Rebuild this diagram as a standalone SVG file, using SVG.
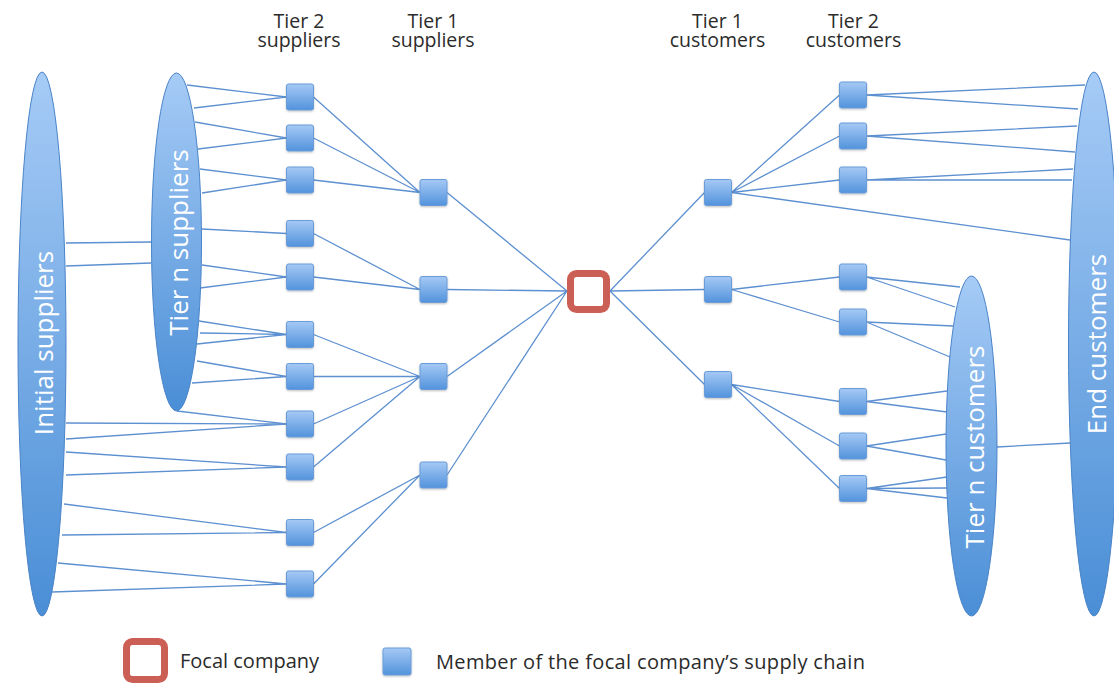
<svg xmlns="http://www.w3.org/2000/svg" width="1114" height="684" viewBox="0 0 1114 684">
<defs>
<linearGradient id="gEll" x1="0" y1="0" x2="0" y2="1">
<stop offset="0" stop-color="#a6cbf6"/>
<stop offset="1" stop-color="#4a8ed6"/>
</linearGradient>
<linearGradient id="gSq" x1="0" y1="0" x2="0" y2="1">
<stop offset="0" stop-color="#a5c9f5"/>
<stop offset="1" stop-color="#5393dc"/>
</linearGradient>
<filter id="sh" x="-20%" y="-20%" width="140%" height="150%">
<feDropShadow dx="0" dy="1" stdDeviation="0.8" flood-color="#000" flood-opacity="0.25"/>
</filter>
</defs>
<style>
.ln{stroke:#5d90d0;stroke-width:1.3;fill:none}
.ell{fill:url(#gEll);stroke:#4a84c8;stroke-width:1}
.sq{fill:url(#gSq);stroke:#6a9cd8;stroke-width:1;filter:url(#sh)}
.focal{fill:#fff;stroke:#cc5f55;stroke-width:7}
.hdr{font-family:"Open Sans","Noto Sans",sans-serif;font-size:19.5px;fill:#2b2b2b;text-anchor:middle}
.lg{font-family:"Open Sans","Noto Sans",sans-serif;font-size:20px;fill:#2b2b2b}
.et{font-family:"Open Sans","Noto Sans",sans-serif;font-size:26px;fill:#fff;text-anchor:middle}
</style>
<rect width="1114" height="684" fill="#fff"/>
<g id="connectors" class="ln">
<path d="M66 243L151 242M66 266L151 263"/>
<path d="M187 85L286.5 97M194 108L286.5 97M195 122L286.5 138M198 149L286.5 138M200 169L286.5 180M202 193L286.5 180M202 229L286.5 233.5M202 265L286.5 277M200 288L286.5 277M199 321L286.5 334.5M200 333L286.5 334.5M197 344L286.5 334.5M197 361L286.5 376.5M192 383L286.5 376.5M177 411L286.5 424"/>
<path d="M66 423L286.5 424M66 439L286.5 424M66 452L286.5 467M66 475L286.5 467M64 504L286.5 532.5M62 535L286.5 532.5M58 563L286.5 584M52 592L286.5 584"/>
<path d="M313.5 97L420 192.5M313.5 138L420 192.5M313.5 180L420 192.5M313.5 233.5L420 289.5M313.5 277L420 289.5M313.5 334.5L420 376.5M313.5 376.5L420 376.5M313.5 424L420 376.5M313.5 467L420 376.5M313.5 532.5L420 475M313.5 584L420 475"/>
<path d="M447 192.5L567 291M447 289.5L567 291M447 376.5L567 291M447 475L567 291"/>
<path d="M610 291L704.5 192.5M610 291L704.5 289.5M610 291L704.5 384.5"/>
<path d="M731.5 192.5L839.5 95M731.5 192.5L839.5 136M731.5 192.5L839.5 180M731.5 192.5L1070 240M731.5 289.5L839.5 277M731.5 289.5L839.5 322M731.5 384.5L839.5 401.5M731.5 384.5L839.5 446M731.5 384.5L839.5 488.5"/>
<path d="M866.5 95L1085 85M866.5 95L1078 109M866.5 136L1077 126M866.5 136L1075 152M866.5 180L1073 169M866.5 180L1072 180"/>
<path d="M866.5 277L960 287M866.5 277L955 307M866.5 322L953 326M866.5 322L950 357M866.5 401.5L947 391M866.5 401.5L947 412M866.5 446L946 434M866.5 446L946 460M866.5 488.5L947 477M866.5 488.5L947 488M866.5 488.5L947 498"/>
<path d="M997 447L1070 443"/>
</g>
<g id="initial-suppliers">
<ellipse class="ell" cx="42" cy="344" rx="24" ry="272"/>
<text class="et" transform="translate(53 343) rotate(-90)">Initial suppliers</text>
</g>
<g id="tier-n-suppliers">
<ellipse class="ell" cx="176.5" cy="242" rx="25" ry="169"/>
<text class="et" transform="translate(188 242.5) rotate(-90)">Tier n suppliers</text>
</g>
<g id="tier-n-customers">
<ellipse class="ell" cx="971.5" cy="446" rx="25.5" ry="170"/>
<text class="et" transform="translate(984 447) rotate(-90)">Tier n customers</text>
</g>
<g id="end-customers">
<ellipse class="ell" cx="1094" cy="344" rx="25.5" ry="272"/>
<text class="et" transform="translate(1106 344) rotate(-90)">End customers</text>
</g>
<g id="tier2-suppliers">
<rect class="sq" x="286.5" y="84" width="27" height="26" rx="2"/>
<rect class="sq" x="286.5" y="125" width="27" height="26" rx="2"/>
<rect class="sq" x="286.5" y="167" width="27" height="26" rx="2"/>
<rect class="sq" x="286.5" y="220.5" width="27" height="26" rx="2"/>
<rect class="sq" x="286.5" y="264" width="27" height="26" rx="2"/>
<rect class="sq" x="286.5" y="321.5" width="27" height="26" rx="2"/>
<rect class="sq" x="286.5" y="363.5" width="27" height="26" rx="2"/>
<rect class="sq" x="286.5" y="411" width="27" height="26" rx="2"/>
<rect class="sq" x="286.5" y="454" width="27" height="26" rx="2"/>
<rect class="sq" x="286.5" y="519.5" width="27" height="26" rx="2"/>
<rect class="sq" x="286.5" y="571" width="27" height="26" rx="2"/>
</g>
<g id="tier1-suppliers">
<rect class="sq" x="420" y="179.5" width="27" height="26" rx="2"/>
<rect class="sq" x="420" y="276.5" width="27" height="26" rx="2"/>
<rect class="sq" x="420" y="363.5" width="27" height="26" rx="2"/>
<rect class="sq" x="420" y="462" width="27" height="26" rx="2"/>
</g>
<g id="focal-company">
<rect class="focal" x="570.5" y="273.5" width="36" height="36" rx="6"/>
</g>
<g id="tier1-customers">
<rect class="sq" x="704.5" y="179.5" width="27" height="26" rx="2"/>
<rect class="sq" x="704.5" y="276.5" width="27" height="26" rx="2"/>
<rect class="sq" x="704.5" y="371.5" width="27" height="26" rx="2"/>
</g>
<g id="tier2-customers">
<rect class="sq" x="839.5" y="82" width="27" height="26" rx="2"/>
<rect class="sq" x="839.5" y="123" width="27" height="26" rx="2"/>
<rect class="sq" x="839.5" y="167" width="27" height="26" rx="2"/>
<rect class="sq" x="839.5" y="264" width="27" height="26" rx="2"/>
<rect class="sq" x="839.5" y="309" width="27" height="26" rx="2"/>
<rect class="sq" x="839.5" y="388.5" width="27" height="26" rx="2"/>
<rect class="sq" x="839.5" y="433" width="27" height="26" rx="2"/>
<rect class="sq" x="839.5" y="475.5" width="27" height="26" rx="2"/>
</g>
<g id="headers">
<text class="hdr" x="299" y="28"><tspan x="299">Tier 2</tspan><tspan x="299" dy="19">suppliers</tspan></text>
<text class="hdr" x="433" y="28"><tspan x="433">Tier 1</tspan><tspan x="433" dy="19">suppliers</tspan></text>
<text class="hdr" x="717.5" y="28"><tspan x="717.5">Tier 1</tspan><tspan x="717.5" dy="19">customers</tspan></text>
<text class="hdr" x="853.5" y="28"><tspan x="853.5">Tier 2</tspan><tspan x="853.5" dy="19">customers</tspan></text>
</g>
<g id="legend">
<rect class="focal" x="126.5" y="641.5" width="38" height="38" rx="6"/>
<text class="lg" x="180" y="668">Focal company</text>
<rect class="sq" x="383" y="648" width="28" height="27" rx="2"/>
<text class="lg" x="436" y="669" textLength="429">Member of the focal company’s supply chain</text>
</g>
</svg>
